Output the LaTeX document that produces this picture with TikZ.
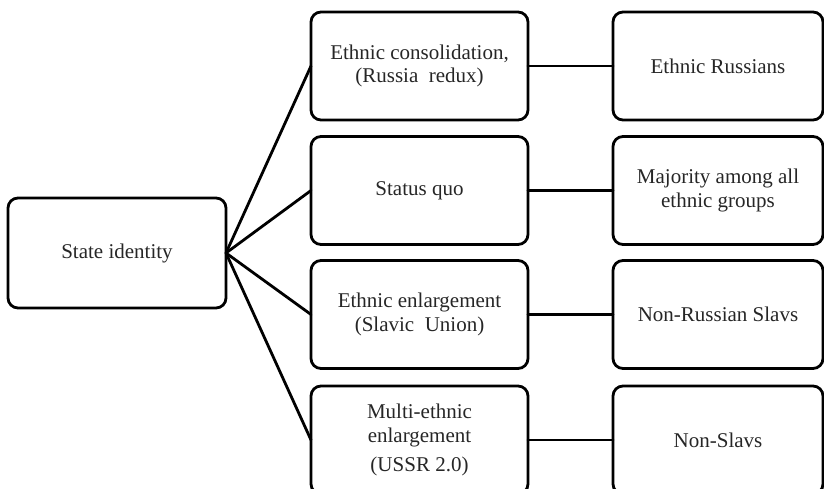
\documentclass[tikz,border=0pt]{standalone}
\usepackage{fontspec}
\setmainfont{Liberation Serif}
\begin{document}
\begin{tikzpicture}[x=1pt,y=-1pt,
  box/.style={draw=black, line width=2.8pt, rounded corners=10pt, align=center,
    inner sep=0pt, outer sep=0pt, minimum height=108pt, text=black!85,
    font=\fontsize{21}{23.5}\selectfont},
  mid/.style={box, minimum width=217pt},
  rgt/.style={box, minimum width=210pt},
  link/.style={line width=2.8pt, line cap=round}]
\useasboundingbox (0,0) rectangle (824,489);
\clip (0,0) rectangle (824,489);
\node[box, minimum width=218pt, minimum height=110pt] (root) at (117,253) {State identity};
\node[mid] (m1) at (419.5,66) {Ethnic consolidation,\\(Russia~ redux)};
\node[mid] (m2) at (419.5,190.5) {Status quo};
\node[mid] (m3) at (419.5,314.5) {Ethnic enlargement\\(Slavic~ Union)};
\node[mid] (m4) at (419.5,440) {Multi-ethnic\\enlargement\\[6pt](USSR 2.0)};
\node[rgt] (r1) at (718,66) {Ethnic Russians};
\node[rgt] (r2) at (718,190.5) {Majority among all\\ethnic groups};
\node[rgt] (r3) at (718,314.5) {Non-Russian Slavs};
\node[rgt] (r4) at (718,440) {Non-Slavs};
\foreach \i in {1,2,3,4} {
  \draw[link] (root.east) -- (m\i.west);
  \draw[link] (m\i.east) -- (r\i.west);
}
\end{tikzpicture}
\end{document}
